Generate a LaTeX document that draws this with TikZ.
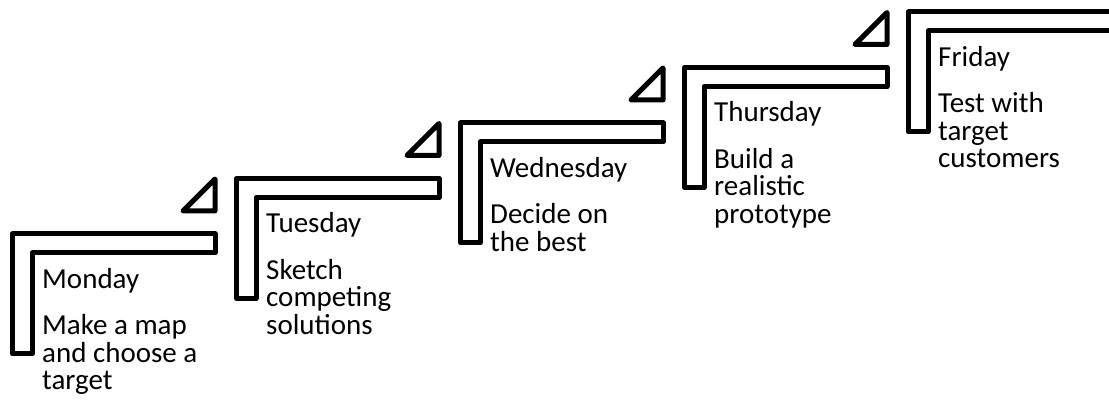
\documentclass[tikz,border=0pt]{standalone}
\usepackage{fontspec}
\setmainfont{Carlito}
\begin{document}
\begin{tikzpicture}[x=1pt,y=-1pt,
  stair/.style={draw=black,line width=5pt,line join=round,fill=white},
  ttl/.style={anchor=base west,inner sep=0pt,font=\fontsize{29}{27.5}\selectfont},
  dsc/.style={anchor=base west,inner sep=0pt,font=\fontsize{29}{27.5}\selectfont}]
\useasboundingbox (0,0) rectangle (1109,403);
\clip (0,0) rectangle (1109,403);
\foreach \i/\t/\d in {
  0/Monday/{\hbox{Make a map}\hbox{and choose a}\hbox{target}},
  1/Tuesday/{\hbox{Sketch}\hbox{competing}\hbox{solutions}},
  2/Wednesday/{\hbox{Decide on}\hbox{the best}},
  3/Thursday/{\hbox{Build a}\hbox{realistic}\hbox{prototype}},
  4/Friday/{\hbox{Test with}\hbox{target}\hbox{customers}}}{
  \begin{scope}[shift={(224*\i,-55.5*\i)}]
    \draw[stair] (12.5,234) -- (215,234) -- (215,253) -- (32,253) -- (32,354) -- (12.5,354) -- cycle;
    \draw[stair] (183,211) -- (215,211) -- (215,179) -- cycle;
    \node[ttl] (title\i) at (42,288.5) {\t};
    \node[dsc] (desc\i) at (42,335) {\vtop{\d}};
  \end{scope}
}
\end{tikzpicture}
\end{document}
